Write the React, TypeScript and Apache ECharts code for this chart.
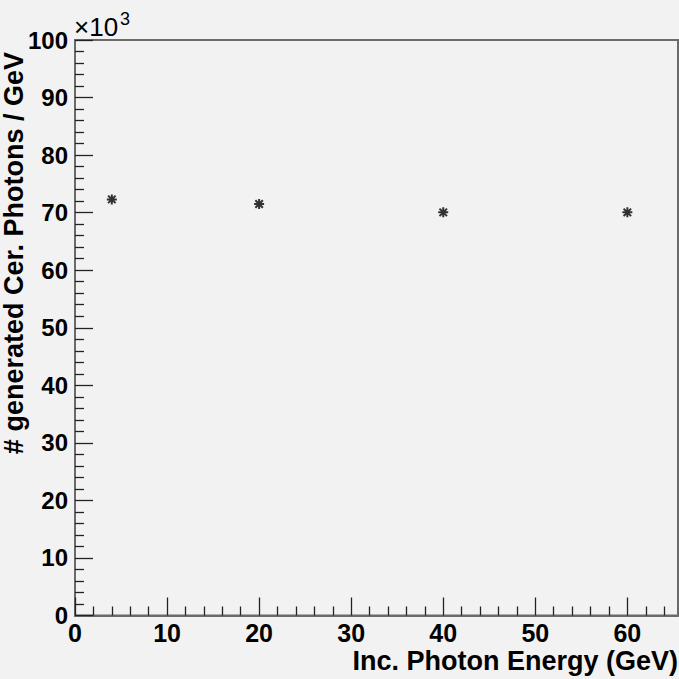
import React, { useEffect, useRef } from "react";
import * as echarts from "echarts";

const energies = [4, 20, 40, 60];
const photons = [72.3, 71.5, 70.05, 70.05];
const xMajorTicks = [0, 10, 20, 30, 40, 50, 60];
const xMinorTicks = [2, 4, 6, 8, 12, 14, 16, 18, 22, 24, 26, 28, 32, 34, 36, 38, 42, 44, 46, 48, 52, 54, 56, 58, 62, 64];
const xTitle = "Inc. Photon Energy (GeV)";
const yTitle = "# generated Cer. Photons / GeV";
const exponentBase = "×10";
const exponent = "3";

const FONT = "Liberation Sans, Arial, sans-serif";

export default function App() {
  const ref = useRef<HTMLDivElement>(null);
  useEffect(() => {
    if (!ref.current) return;
    const chart = echarts.init(ref.current, undefined, { renderer: "svg" });
    const axisCommon = {
      type: "value" as const,
      min: 0,
      max: 65.5,
      axisLine: { show: true, lineStyle: { color: "#6a6a6a", width: 2 } },
      splitLine: { show: false },
    };
    chart.setOption({
      animation: false,
      backgroundColor: "#f2f2f2",
      grid: {
        left: 75,
        top: 40,
        right: 1,
        bottom: 63.5,
        show: true,
        borderColor: "#6a6a6a",
        borderWidth: 2,
        backgroundColor: "transparent",
      },
      xAxis: [
        {
          ...axisCommon,
          axisTick: {
            show: true,
            inside: true,
            length: 18,
            customValues: xMajorTicks,
            lineStyle: { color: "#222", width: 1.3 },
          },
          axisLabel: {
            customValues: xMajorTicks,
            margin: 5,
            color: "#000",
            fontSize: 25,
            fontWeight: "bold",
            fontFamily: FONT,
          },
        },
        {
          ...axisCommon,
          position: "bottom",
          axisLine: { show: false },
          axisTick: {
            show: true,
            inside: true,
            length: 9,
            customValues: xMinorTicks,
            lineStyle: { color: "#222", width: 1.3 },
          },
          axisLabel: { show: false },
        },
      ],
      yAxis: {
        type: "value",
        min: 0,
        max: 100,
        interval: 10,
        axisLine: { show: true, lineStyle: { color: "#6a6a6a", width: 2 } },
        splitLine: { show: false },
        axisTick: { show: true, inside: true, length: 18, lineStyle: { color: "#222", width: 1.3 } },
        minorTick: { show: true, splitNumber: 5, length: 9, lineStyle: { color: "#222", width: 1.3 } },
        minorSplitLine: { show: false },
        axisLabel: {
          margin: 7,
          color: "#000",
          fontSize: 24,
          fontWeight: "bold",
          fontFamily: FONT,
        },
      },
      series: [
        {
          type: "scatter",
          xAxisIndex: 0,
          data: energies.map((e, i) => [e, photons[i]]),
          symbol: "path://M0,4L8,4M4,0L4,8M1,1L7,7M7,1L1,7",
          symbolSize: 10,
          itemStyle: { color: "#000", borderColor: "#000", borderWidth: 2 },
        },
      ],
      graphic: [
        {
          type: "text",
          x: 678,
          y: 661,
          style: {
            text: xTitle,
            fill: "#000",
            fontSize: 27,
            fontWeight: "bold",
            fontFamily: FONT,
            align: "right",
            verticalAlign: "middle",
          },
        },
        {
          type: "text",
          x: 14,
          y: 52,
          rotation: Math.PI / 2,
          style: {
            text: yTitle,
            fill: "#000",
            fontSize: 27,
            fontWeight: "bold",
            fontFamily: FONT,
            align: "right",
            verticalAlign: "middle",
          },
        },
        {
          type: "text",
          x: 74,
          y: 27,
          style: {
            text: exponentBase,
            fill: "#000",
            fontSize: 26,
            fontFamily: FONT,
            align: "left",
            verticalAlign: "middle",
          },
        },
        {
          type: "text",
          x: 120,
          y: 19,
          style: {
            text: exponent,
            fill: "#000",
            fontSize: 18,
            fontFamily: FONT,
            align: "left",
            verticalAlign: "middle",
          },
        },
      ],
    });
    return () => chart.dispose();
  }, []);
  return (
    <div
      ref={ref}
      style={{ position: "absolute", left: 0, top: 0, width: 679, height: 679, background: "#f2f2f2" }}
    />
  );
}
